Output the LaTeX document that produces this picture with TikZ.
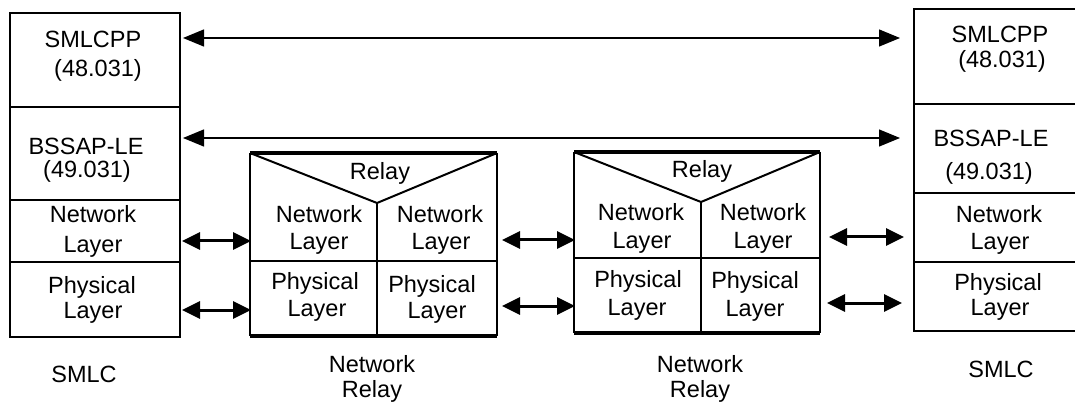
\documentclass[tikz,border=0pt]{standalone}
\usepackage{fontspec}
\setmainfont{Liberation Sans}
\usetikzlibrary{arrows.meta}
\tikzset{
  x=1pt, y=-1pt,
  txt/.style={anchor=base, inner sep=0pt, font=\fontsize{23.5}{27}\selectfont},
  frame/.style={line width=2pt},
  thick frame/.style={line width=4pt},
  longarrow/.style={line width=1.3pt, {Triangle[length=21pt,width=17pt]}-{Triangle[length=21pt,width=17pt]}},
  shortarrow/.style={line width=3pt, {Triangle[length=18pt,width=17pt]}-{Triangle[length=18pt,width=17pt]}},
}
\begin{document}
\begin{tikzpicture}
\useasboundingbox (0,0) rectangle (1075,403);
\clip (0,0) rectangle (1075,403);
% ---------- left SMLC stack ----------
\draw[frame] (10,13) rectangle (180,337);
\draw[frame] (10,107) -- (181,107);
\draw[frame] (10,200) -- (181,200);
\draw[frame] (10,262) -- (181,262);
\node[txt] (l1a) at (93,48) {SMLCPP};
\node[txt] (l1b) at (98,77) {(48.031)};
\node[txt] (l2a) at (86,155) {BSSAP-LE};
\node[txt] (l2b) at (87,178) {(49.031)};
\node[txt] (l3a) at (93,223) {Network};
\node[txt] (l3b) at (93,252) {Layer};
\node[txt] (l4a) at (92,293) {Physical};
\node[txt] (l4b) at (93,318) {Layer};
\node[txt] (lname) at (84,382) {SMLC};
% ---------- right SMLC stack ----------
\draw[frame] (1090,9) -- (914,9) -- (914,331) -- (1090,331);
\draw[frame] (914,104) -- (1090,104);
\draw[frame] (914,193) -- (1090,193);
\draw[frame] (914,262) -- (1090,262);
\node[txt] (r1a) at (1000,43) {SMLCPP};
\node[txt] (r1b) at (1002,68) {(48.031)};
\node[txt] (r2a) at (991,147) {BSSAP-LE};
\node[txt] (r2b) at (989,180) {(49.031)};
\node[txt] (r3a) at (999,223) {Network};
\node[txt] (r3b) at (1000,250) {Layer};
\node[txt] (r4a) at (998,290) {Physical};
\node[txt] (r4b) at (1000,315) {Layer};
\node[txt] (rname) at (1001,377) {SMLC};
% ---------- relay 1 ----------
\draw[frame] (250,153) -- (250,336);
\draw[frame] (497,153) -- (497,336);
\draw[thick frame] (250,153) -- (497,153);
\draw[thick frame] (250,336) -- (497,336);
\draw[frame] (250,153) -- (377,203) -- (497,153);
\draw[frame] (377,203) -- (377,336);
\draw[frame] (250,261) -- (497,261);
\node[txt] (a0) at (380,180) {Relay};
\node[txt] (a1) at (319,223) {Network};
\node[txt] (a2) at (319,250) {Layer};
\node[txt] (a3) at (440,223) {Network};
\node[txt] (a4) at (441,250) {Layer};
\node[txt] (a5) at (315,289) {Physical};
\node[txt] (a6) at (317,316) {Layer};
\node[txt] (a7) at (432,292) {Physical};
\node[txt] (a8) at (437,318) {Layer};
\node[txt] (aname1) at (372,372) {Network};
\node[txt] (aname2) at (372,397) {Relay};
% ---------- relay 2 ----------
\draw[frame] (574,152) -- (574,333);
\draw[frame] (820,152) -- (820,333);
\draw[thick frame] (574,152) -- (820,152);
\draw[thick frame] (574,333) -- (820,333);
\draw[frame] (574,152) -- (701,202) -- (820,152);
\draw[frame] (701,202) -- (701,333);
\draw[frame] (574,258) -- (820,258);
\node[txt] (b0) at (702,178) {Relay};
\node[txt] (b1) at (641,221) {Network};
\node[txt] (b2) at (642,248) {Layer};
\node[txt] (b3) at (763,221) {Network};
\node[txt] (b4) at (763,248) {Layer};
\node[txt] (b5) at (638,287) {Physical};
\node[txt] (b6) at (637,315) {Layer};
\node[txt] (b7) at (755,288) {Physical};
\node[txt] (b8) at (755,316) {Layer};
\node[txt] (bname1) at (700,372) {Network};
\node[txt] (bname2) at (700,397) {Relay};
% ---------- arrow end points ----------
\coordinate (p1l) at (183,38);  \coordinate (p1r) at (900,38);
\coordinate (p2l) at (183,138); \coordinate (p2r) at (900,138);
\coordinate (n1l) at (182,241); \coordinate (n1r) at (251,241);
\coordinate (f1l) at (182,310); \coordinate (f1r) at (251,310);
\coordinate (n2l) at (502,240); \coordinate (n2r) at (575,240);
\coordinate (f2l) at (502,306); \coordinate (f2r) at (575,306);
\coordinate (n3l) at (829,237); \coordinate (n3r) at (904,237);
\coordinate (f3l) at (827,303); \coordinate (f3r) at (902,303);
\draw[longarrow] (p1l) -- (p1r);
\draw[longarrow] (p2l) -- (p2r);
\draw[shortarrow] (n1l) -- (n1r);
\draw[shortarrow] (f1l) -- (f1r);
\draw[shortarrow] (n2l) -- (n2r);
\draw[shortarrow] (f2l) -- (f2r);
\draw[shortarrow] (n3l) -- (n3r);
\draw[shortarrow] (f3l) -- (f3r);
\end{tikzpicture}
\end{document}
